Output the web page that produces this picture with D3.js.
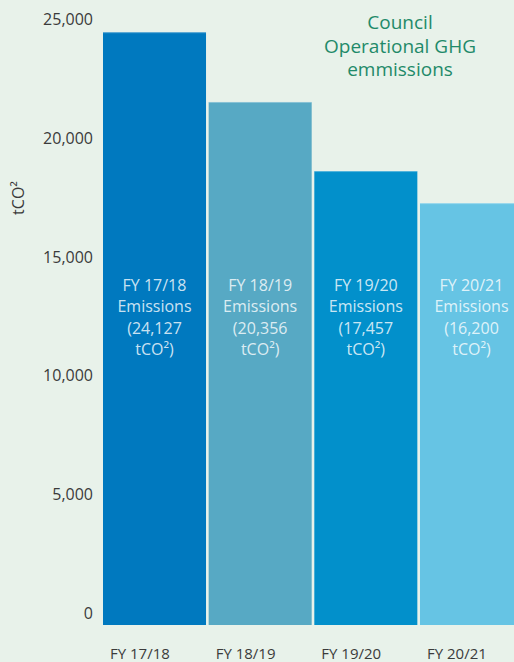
<!DOCTYPE html>
<html>
<head>
<meta charset="utf-8">
<script src="https://cdn.jsdelivr.net/npm/d3@7"></script>
<style>
  html, body { margin: 0; padding: 0; background: #e8f2ea; }
  svg { display: block; font-family: "Open Sans", sans-serif; }
</style>
</head>
<body>
<div id="chart"></div>
<script>
// data
const years = ["FY 17/18", "FY 18/19", "FY 19/20", "FY 20/21"];
const barValues = [24470, 21530, 18620, 17270];   // bar heights as drawn
const labelValues = ["24,127", "20,356", "17,457", "16,200"]; // printed totals
const barColors = ["#0079bf", "#57a9c4", "#0290cb", "#66c4e4"];
const yTicks = [0, 5000, 10000, 15000, 20000, 25000];
const titleLines = ["Council", "Operational GHG", "emmissions"];

const width = 514
const height = 662

const svg = d3.select("#chart")
    .append("svg")
    .attr("width", width)
    .attr("height", height);

svg.append("rect")
    .attr("width", width)
    .attr("height", height)
    .attr("fill", "#e8f2ea");

// bars sit a touch below the zero label, so the domain starts just under 0
const y = d3.scaleLinear()
    .domain([-500, 25000])
    .range([625, 19.6]);

const x = d3.scaleBand()
    .domain(years)
    .range([103, 523])
    .paddingInner(0.025)
    .paddingOuter(0);

// y axis labels (no line, no ticks)
const yAxis = svg.append("g")
    .attr("transform", "translate(93,0)")
    .call(d3.axisLeft(y).tickValues(yTicks).tickSize(0).tickPadding(0)
        .tickFormat(d3.format(",")));
yAxis.select(".domain").remove();
yAxis.selectAll("text")
    .attr("fill", "#3b3b3b")
    .style("font-size", "16px")
    .style("font-family", "'Open Sans', sans-serif");

svg.append("text")
    .attr("transform", "translate(18,198) rotate(-90)")
    .attr("text-anchor", "middle")
    .attr("dominant-baseline", "central")
    .attr("fill", "#3b3b3b")
    .style("font-size", "16px")
    .text("tCO²");

// bars
const base = y.range()[0];
svg.append("g")
    .selectAll("rect")
    .data(years)
    .join("rect")
    .attr("x", d => x(d))
    .attr("y", (d, i) => y(barValues[i]))
    .attr("width", x.bandwidth())
    .attr("height", (d, i) => base - y(barValues[i]))
    .attr("fill", (d, i) => barColors[i]);

// thin light edge on top of each bar
svg.append("g")
    .selectAll("rect")
    .data(years)
    .join("rect")
    .attr("x", d => x(d))
    .attr("y", (d, i) => y(barValues[i]))
    .attr("width", x.bandwidth())
    .attr("height", 1)
    .attr("fill", "#ffffff")
    .attr("opacity", 0.3);

// labels inside the bars
const inner = svg.append("g")
    .selectAll("text")
    .data(years)
    .join("text")
    .attr("text-anchor", "middle")
    .attr("fill", "#ffffff")
    .attr("fill-opacity", 0.8)
    .style("font-size", "16px");

const lines = (d, i) => [d, "Emissions", "(" + labelValues[i], "tCO²)"];
inner.each(function (d, i) {
    const t = d3.select(this);
    lines(d, i).forEach((s, k) => {
        t.append("tspan")
            .attr("x", x(d) + x.bandwidth() / 2)
            .attr("y", 285 + k * 21.4)
            .attr("dominant-baseline", "central")
            .text(s);
    });
});

// category labels below
svg.append("g")
    .selectAll("text")
    .data(years)
    .join("text")
    .attr("x", d => x(d) + 7)
    .attr("y", 653)
    .attr("dominant-baseline", "central")
    .attr("fill", "#3b3b3b")
    .style("font-size", "15px")
    .text(d => d);

// title
svg.append("g")
    .selectAll("text")
    .data(titleLines)
    .join("text")
    .attr("x", 400)
    .attr("y", (d, i) => 22 + i * 23.5)
    .attr("text-anchor", "middle")
    .attr("dominant-baseline", "central")
    .attr("fill", "#1f8a69")
    .style("font-size", "19px")
    .text(d => d);
</script>
</body>
</html>
